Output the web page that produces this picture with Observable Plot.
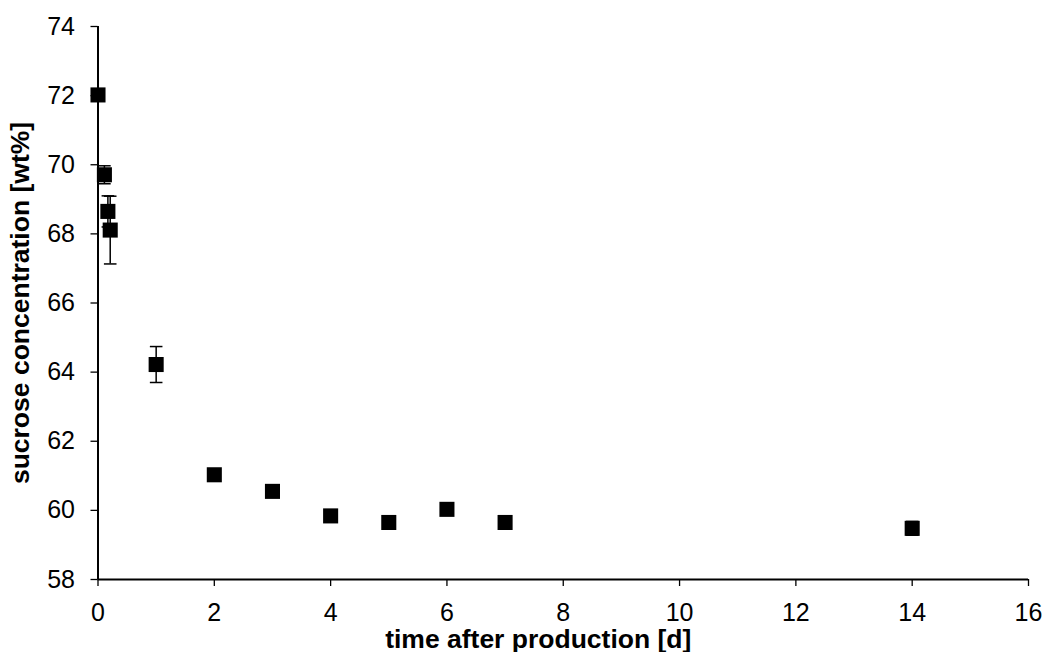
<!DOCTYPE html>
<html>
<head>
<meta charset="utf-8">
<script src="https://cdn.jsdelivr.net/npm/d3@7"></script>
<script src="https://cdn.jsdelivr.net/npm/@observablehq/plot@0.6"></script>
<style>
  html, body { margin: 0; padding: 0; background: #fff; }
</style>
</head>
<body>
<div id="chart"></div>
<script>
// Sucrose concentration over storage time (days after production)
const days    = [0, 0.11, 0.17, 0.21, 1, 2, 3, 4, 5, 6, 7, 14];
const sucrose = [72.02, 69.71, 68.65, 68.11, 64.22, 61.03, 60.55, 59.84, 59.65, 60.03, 59.65, 59.48];
const errors  = [0.05, 0.26, 0.45, 0.98, 0.52, 0.05, 0.05, 0.05, 0.05, 0.05, 0.05, 0.2];

const xTicks = [0, 2, 4, 6, 8, 10, 12, 14, 16];
const yTicks = [58, 60, 62, 64, 66, 68, 70, 72, 74];

const xTitle = "time after production [d]";
const yTitle = "sucrose concentration [wt%]";

const data = days.map((d, i) => ({ day: d, value: sucrose[i], err: errors[i] }));

// horizontal cap symbol for the error bars
const cap = {
  draw(context) {
    const w = 6.3;
    context.moveTo(-w, 0);
    context.lineTo(w, 0);
  }
};

const font = "Liberation Sans, Arial, sans-serif";

const chart = Plot.plot({
  width: 1043,
  height: 652,
  marginLeft: 97.5,
  marginRight: 15,
  marginTop: 26,
  marginBottom: 73,
  style: { color: "#000", background: "#fff", fontFamily: font },
  x: { domain: [0, 16] },
  y: { domain: [58, 74] },
  marks: [
    Plot.axisX({ ticks: xTicks, tickSize: 7, tickPadding: 17, fontSize: 25, label: null, stroke: "#000", strokeWidth: 1.3 }),
    Plot.axisY({ ticks: yTicks, tickSize: 7, tickPadding: 16, fontSize: 25, label: null, stroke: "#000", strokeWidth: 1.3 }),
    Plot.ruleX([0], { stroke: "#000", strokeWidth: 2 }),
    Plot.ruleY([58], { stroke: "#000", strokeWidth: 2 }),
    // axis titles: x title is centred on the whole chart width, not the plot frame
    Plot.text([xTitle], { frameAnchor: "bottom", textAnchor: "middle", lineAnchor: "bottom", dx: -25, dy: 68,
                          fontWeight: "bold", fontSize: 26.5, fill: "#000" }),
    Plot.text([yTitle], { frameAnchor: "left", textAnchor: "middle", lineAnchor: "middle", rotate: -90, dx: -77.5,
                          fontWeight: "bold", fontSize: 26.5, fill: "#000" }),
    Plot.ruleX(data, { x: "day", y1: d => d.value - d.err, y2: d => d.value + d.err, stroke: "#000", strokeWidth: 1.5 }),
    Plot.dot(data, { x: "day", y: d => d.value - d.err, symbol: cap, stroke: "#000", strokeWidth: 1.5, r: 5 }),
    Plot.dot(data, { x: "day", y: d => d.value + d.err, symbol: cap, stroke: "#000", strokeWidth: 1.5, r: 5 }),
    Plot.dot(data, { x: "day", y: "value", symbol: "square", fill: "#000", stroke: "none", r: 8.5 })
  ]
});

document.getElementById("chart").appendChild(chart);
</script>
</body>
</html>
